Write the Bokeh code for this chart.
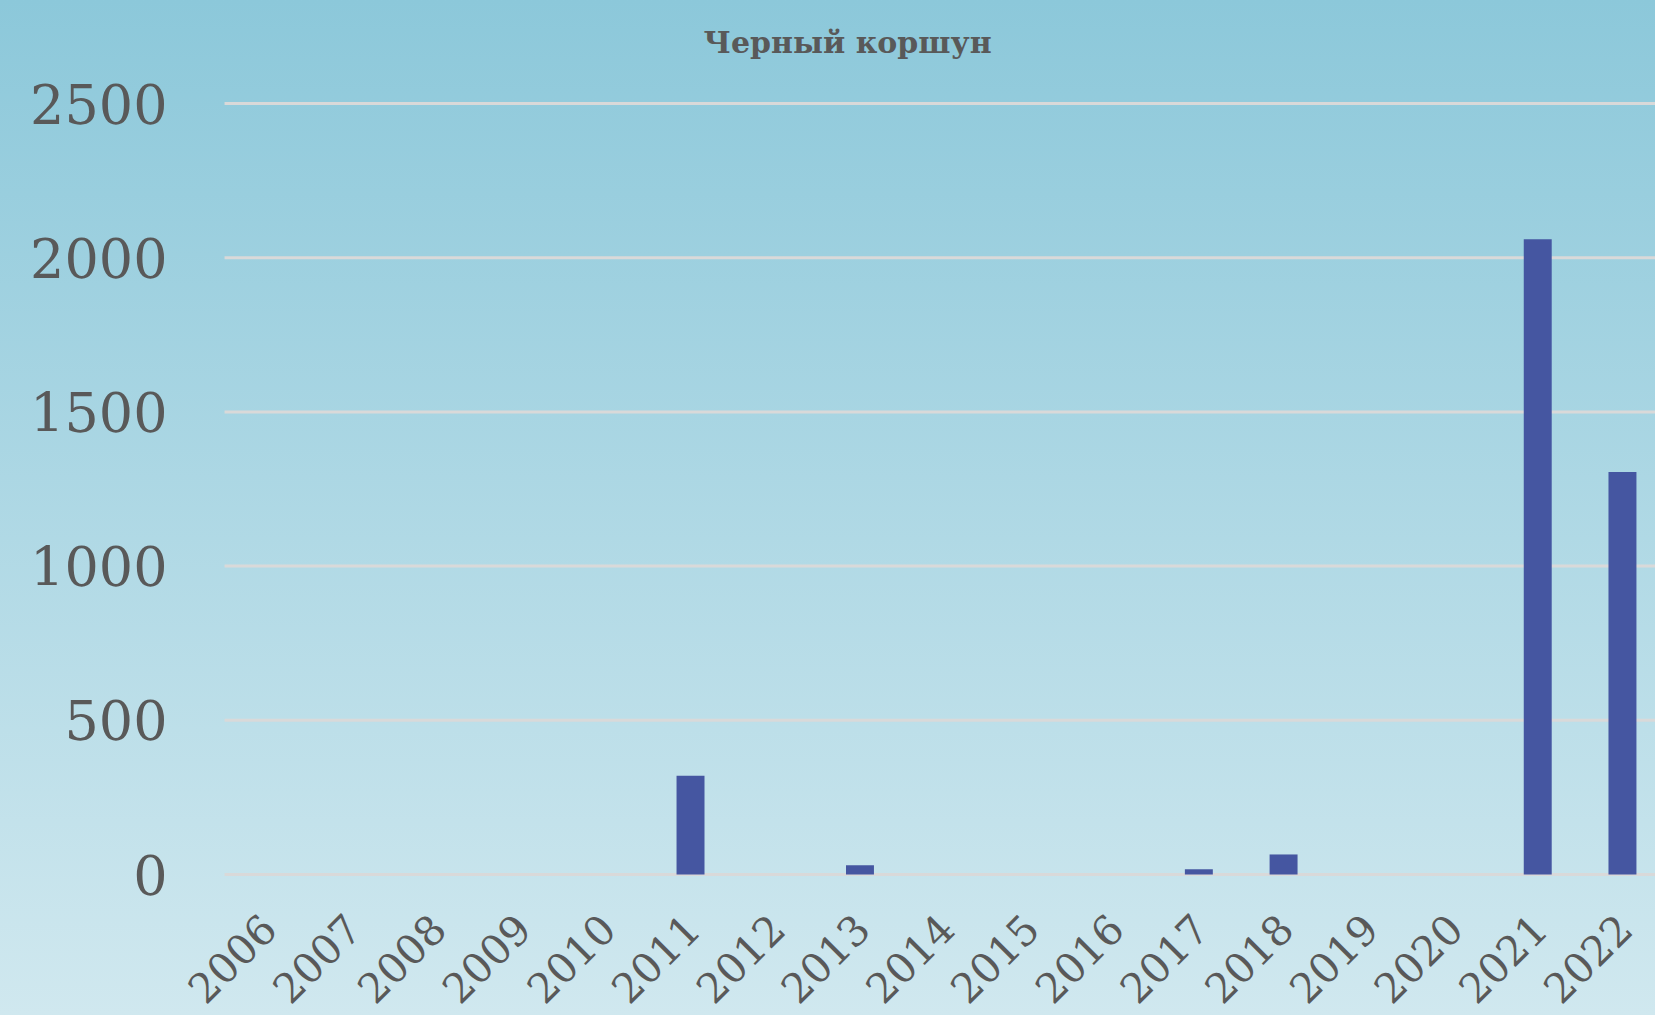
from bokeh.plotting import figure
from bokeh.models import Range1d, FixedTicker, Label, GlobalInlineStyleSheet
from bokeh.core.properties import value
from bokeh.embed import file_html
from bokeh.resources import INLINE
import math

# ---- data ----
years = [2006, 2007, 2008, 2009, 2010, 2011, 2012, 2013, 2014, 2015, 2016,
         2017, 2018, 2019, 2020, 2021, 2022]
counts = [0, 0, 0, 0, 0, 320, 0, 30, 0, 0, 0, 17, 65, 0, 0, 2060, 1305]
year_labels = [str(y) for y in years]
y_ticks = [0, 500, 1000, 1500, 2000, 2500]
title_text = "Черный коршун"

W, H = 1655, 1015
X0, X1 = 2005.5, 2022.39          # category area (first/last category edges)
# frame fills the canvas except the y-label strip, so the title and the
# slanted year labels can sit inside it
p = figure(width=W, height=H, output_backend="svg", toolbar_location=None,
           x_range=Range1d(2004.862, X1), y_range=Range1d(-457.2, 2834.1),
           min_border_left=170, min_border_right=0, min_border_top=0,
           min_border_bottom=0)
p.title.text = ""

p.stylesheets = [GlobalInlineStyleSheet(css="html, body {margin:0 !important; padding:0; overflow:hidden; background:#CFE7EE;}")]
p.styles = {"background": "linear-gradient(to bottom, #8CC8DA 0%, #D0E8EF 100%)"}
p.background_fill_alpha = 0
p.border_fill_alpha = 0
p.outline_line_color = None

# horizontal gridlines spanning the category area only
p.xgrid.grid_line_color = None
p.ygrid.grid_line_color = None
p.segment(x0=[X0] * len(y_ticks), x1=[X1 + 1] * len(y_ticks), y0=y_ticks,
          y1=y_ticks, line_color="#D9D9D9", line_width=3)

p.vbar(x=years, top=counts, width=0.33, bottom=0, fill_color="#4556A1",
       line_color=None)

# y axis
p.yaxis.ticker = FixedTicker(ticks=y_ticks)
p.yaxis.axis_line_color = None
p.yaxis.major_tick_line_color = None
p.yaxis.minor_tick_line_color = None
p.yaxis.major_tick_out = 0
p.yaxis.major_tick_in = 0
p.yaxis.minor_tick_out = 0
p.yaxis.major_label_text_font = "DejaVu Serif"
p.yaxis.major_label_text_font_size = "54px"
p.yaxis.major_label_text_color = "#595959"
p.yaxis.major_label_standoff = 3

# x axis: year labels under each category, slanted 45 degrees
p.xaxis.visible = False
p.text(x=years, y=[0] * len(years), text=year_labels, angle=math.pi / 4,
       text_align="right", text_baseline="middle", x_offset=2, y_offset=47,
       text_font=value("DejaVu Serif"), text_font_size="41px",
       text_color="#595959")

# chart title
title = Label(x=2011.153, y=2697.9, text=title_text, text_align="left",
              text_baseline="alphabetic", text_font="DejaVu Serif",
              text_font_size="30px", text_font_style="bold",
              text_color="#595959")
p.add_layout(title)

open("out.html", "w").write(file_html(p, INLINE))
